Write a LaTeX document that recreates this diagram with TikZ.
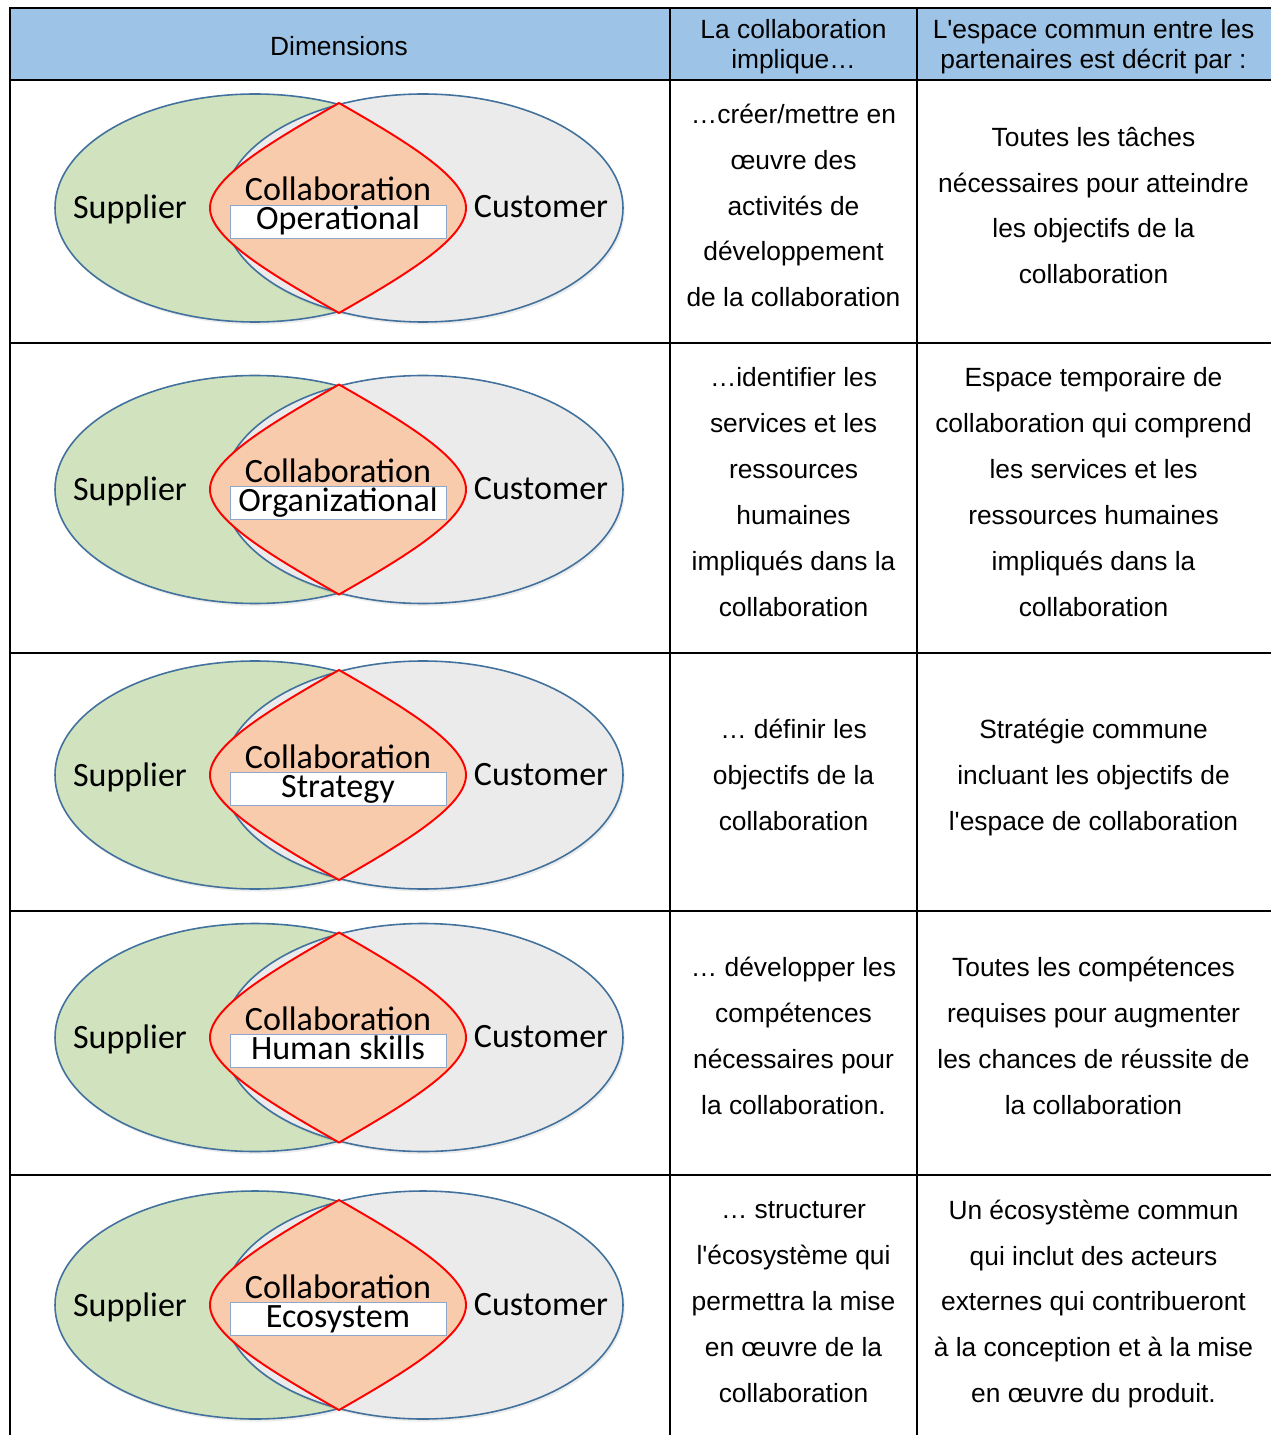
\documentclass[tikz,border=0pt]{standalone}
\usepackage{fontspec}
\setmainfont{Liberation Sans}
\newfontfamily\vennfont{Carlito}
\usepackage{tikz}
\usetikzlibrary{shadows}
\definecolor{hdrblue}{HTML}{9DC3E6}
\definecolor{supgreen}{HTML}{D0E3BE}
\definecolor{cusgrey}{HTML}{EBEBEB}
\definecolor{lenspeach}{HTML}{F8CBAD}
\definecolor{vennblue}{HTML}{41719C}
\definecolor{boxblue}{HTML}{8EA6C9}
\tikzset{
  grid/.style = {line width=1.2pt, line cap=rect},% traits du tableau
  head/.style = {align=center, inner sep=0pt,
    font=\fontsize{15}{17}\selectfont},% texte d'en-tete
  cell/.style = {align=center, inner sep=0pt,
    font=\fontsize{15}{26.1}\selectfont},% texte des cellules
  venn_g/.style = {fill=supgreen, draw=vennblue, line width=0.9pt,
    drop shadow={opacity=0.15, shadow xshift=1pt, shadow yshift=-1.5pt}},% ellipse fournisseur
  venn_c/.style = {fill=cusgrey, draw=vennblue, line width=0.9pt,
    drop shadow={opacity=0.15, shadow xshift=1pt, shadow yshift=-1.5pt}},% ellipse client
  lens/.style = {fill=lenspeach, draw=red, line width=1.1pt},% zone commune
  vlabel/.style = {font=\vennfont\fontsize{19.4}{20}\selectfont,
    inner sep=0pt, anchor=base},% texte du diagramme
  dimbox/.style = {vlabel, fill=white, draw=boxblue, line width=0.5pt,
    minimum width=4.32cm, minimum height=0.66cm, text height=0.44cm,
    text depth=0.1cm, anchor=center}% cadre de la dimension
}
\begin{document}
\begin{tikzpicture}[x=0.02cm, y=-0.02cm]
\useasboundingbox (0,0) rectangle (1270,1435);
\fill[hdrblue] (10,8) rectangle (1275,80);
\node[head] (hdim) at (339,46) {Dimensions};
\node[head] (himp) at (793.5,47) {La collaboration\\implique…};
\node[head] (hesp) at (1093.5,47) {L\textquotesingle espace commun entre les\\partenaires est décrit par :};

% diagrammes de Venn
\foreach \vy/\lbl/\n in {208/Operational/1, 489.5/Organizational/2,
    775/Strategy/3, 1037.5/Human skills/4, 1305/Ecosystem/5}{
  \draw[venn_g] (255,\vy) ellipse [x radius=200, y radius=114];
  \draw[venn_c] (423,\vy) ellipse [x radius=200, y radius=114];
  \draw[lens] (339,\vy-105) .. controls (409,\vy-65) and (466,\vy-30) .. (466,\vy)
    .. controls (466,\vy+30) and (409,\vy+65) .. (339,\vy+105)
    .. controls (269,\vy+65) and (210,\vy+30) .. (210,\vy)
    .. controls (210,\vy-30) and (269,\vy-65) .. cycle;
  \node[vlabel] (sup\n) at (130,\vy+11) {Supplier};
  \node[vlabel] (cus\n) at (541,\vy+10) {Customer};
  \node[vlabel] (col\n) at (338,\vy-7) {Collaboration};
  \node[dimbox] (dim\n) at (338,\vy+13.5) {\lbl};
}

% colonne : la collaboration implique
\node[cell] (imp1) at (793.5,205.5) {…créer/mettre en\\œuvre des\\activités de\\développement\\de la collaboration};
\node[cell] (imp2) at (793.5,492) {…identifier les\\services et les\\ressources\\humaines\\impliqués dans la\\collaboration};
\node[cell] (imp3) at (793.5,775) {… définir les\\objectifs de la\\collaboration};
\node[cell] (imp4) at (793.5,1036) {… développer les\\compétences\\nécessaires pour\\la collaboration.};
\node[cell] (imp5) at (793.5,1302) {… structurer\\l\textquotesingle écosystème qui\\permettra la mise\\en œuvre de la\\collaboration};

% colonne : espace commun
\node[cell] (esp1) at (1093.5,205.5) {Toutes les tâches\\nécessaires pour atteindre\\les objectifs de la\\collaboration};
\node[cell] (esp2) at (1093.5,492) {Espace temporaire de\\collaboration qui comprend\\les services et les\\ressources humaines\\impliqués dans la\\collaboration};
\node[cell] (esp3) at (1093.5,777.5) {Stratégie commune\\incluant les objectifs de\\l\textquotesingle espace de collaboration};
\node[cell] (esp4) at (1093.5,1036) {Toutes les compétences\\requises pour augmenter\\les chances de réussite de\\la collaboration};
\node[cell] (esp5) at (1093.5,1304) {Un écosystème commun\\qui inclut des acteurs\\externes qui contribueront\\à la conception et à la mise\\en œuvre du produit.};

% grille du tableau
\draw[grid] (10,1440) -- (10,8) -- (1275,8);
\foreach \h in {80,343,653,911,1175}
  \draw[grid] (10,\h) -- (1275,\h);
\draw[grid] (670,8) -- (670,1440);
\draw[grid] (917,8) -- (917,1440);
\end{tikzpicture}
\end{document}
